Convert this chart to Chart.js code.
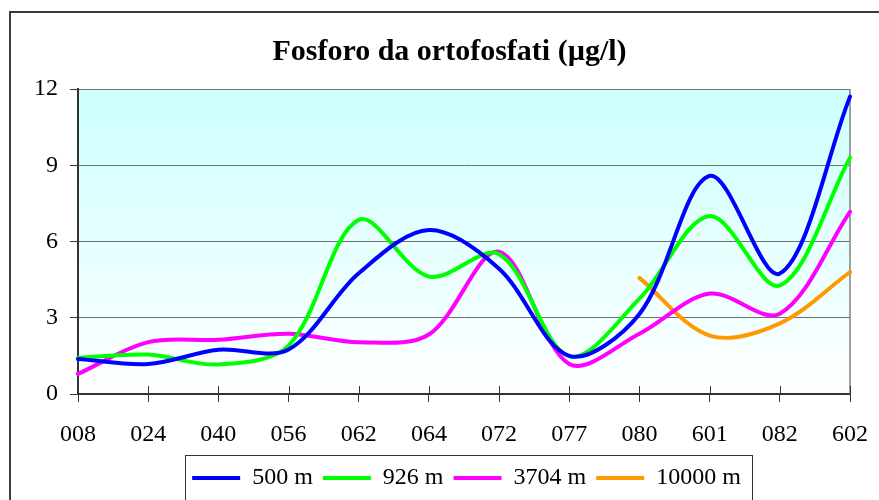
<!DOCTYPE html>
<html>
<head>
<meta charset="utf-8">
<script src="https://cdn.jsdelivr.net/npm/chart.js@4"></script>
<style>
  html, body { margin: 0; padding: 0; background: #fff; }
  #wrap { position: relative; width: 879px; height: 500px; overflow: hidden; }
  #frame { position: absolute; left: 9px; top: 11px; width: 1000px; height: 1000px; border: 2px solid #3c3c3c; }
  canvas { position: absolute; left: 0; top: 0; }
</style>
</head>
<body>
<div id="wrap">
  <div id="frame"></div>
  <canvas id="chart" width="879" height="500"></canvas>
</div>
<script>
// stazioni lungo l'asse x
const stazioni = ['008', '024', '040', '056', '062', '064', '072', '077', '080', '601', '082', '602'];

// valori (µg/l)
const dist500 = [1.38, 1.18, 1.74, 1.75, 4.75, 6.45, 4.93, 1.5, 3.15, 8.58, 4.74, 11.7];
const dist926 = [1.42, 1.55, 1.16, 1.9, 6.85, 4.62, 5.5, 1.48, 3.75, 7.0, 4.27, 9.3];
const dist3704 = [0.79, 2.04, 2.13, 2.37, 2.04, 2.34, 5.6, 1.18, 2.37, 3.95, 3.16, 7.17];
const dist10000 = [null, null, null, null, null, null, null, null, 4.57, 2.3, 2.78, 4.8];

const yTicks = [0, 3, 6, 9, 12];

const serif = '"Liberation Serif", "Times New Roman", serif';

// sfondo sfumato dell'area del grafico + bordo destro + tacche incrociate sull'asse x
const plotBackground = {
    id: 'plotBackground',
    beforeDatasetsDraw(chart) {
        const { ctx, chartArea: a } = chart;
        ctx.save();
        ctx.globalCompositeOperation = 'destination-over';
        const grad = ctx.createLinearGradient(0, a.top, 0, a.bottom);
        grad.addColorStop(0, '#ccffff');
        grad.addColorStop(1, '#ffffff');
        ctx.fillStyle = grad;
        ctx.fillRect(a.left, a.top, a.right - a.left, a.bottom - a.top);
        ctx.restore();

        ctx.save();
        ctx.strokeStyle = '#808080';
        ctx.lineWidth = 1.5;
        ctx.beginPath();
        ctx.moveTo(a.right, a.top);
        ctx.lineTo(a.right, a.bottom);
        ctx.stroke();

        const xs = chart.scales.x;
        ctx.strokeStyle = '#333';
        ctx.lineWidth = 1;
        xs.ticks.forEach((t, i) => {
            const px = Math.round(xs.getPixelForTick(i)) + 0.5;
            ctx.beginPath();
            ctx.moveTo(px, a.bottom - 8);
            ctx.lineTo(px, a.bottom);
            ctx.stroke();
        });
        ctx.restore();
    }
};

// sposta titolo e legenda come nell'originale (il riquadro Excel e' piu' largo)
const shiftBlocks = {
    id: 'shiftBlocks',
    afterLayout(chart) {
        chart.titleBlock.left = 20;
        chart.titleBlock.right = 879;
        chart.legend.left = 83;
        chart.legend.right = 850;
    }
};

// cornice attorno alla legenda
const legendFrame = {
    id: 'legendFrame',
    afterDraw(chart) {
        const hb = chart.legend.legendHitBoxes;
        if (!hb || !hb.length) return;
        const first = hb[0], last = hb[hb.length - 1];
        const x0 = Math.round(first.left - 7) + 0.5;
        const x1 = Math.round(last.left + last.width + 11) + 0.5;
        const cy = first.top + first.height / 2;
        const y0 = Math.round(cy - 23) + 0.5;
        const ctx = chart.ctx;
        ctx.save();
        ctx.strokeStyle = '#333';
        ctx.lineWidth = 1;
        ctx.strokeRect(x0, y0, x1 - x0, 60);
        ctx.restore();
    }
};

function serie(label, data, color) {
    return {
        label: label,
        data: data,
        borderColor: color,
        backgroundColor: color,
        borderWidth: 4,
        borderCapStyle: 'round',
        pointRadius: 0,
        pointHoverRadius: 0,
        tension: 0.33,
        fill: false,
        spanGaps: false
    };
}

new Chart(document.getElementById('chart'), {
    type: 'line',
    data: {
        labels: stazioni,
        datasets: [
            serie('500 m', dist500, '#0000ff'),
            serie('926 m', dist926, '#00ff00'),
            serie('3704 m', dist3704, '#ff00ff'),
            serie('10000 m', dist10000, '#ff9900')
        ]
    },
    plugins: [plotBackground, shiftBlocks, legendFrame],
    options: {
        responsive: false,
        animation: false,
        events: [],
        layout: { padding: { top: 12, right: 29, bottom: 0, left: 0 } },
        scales: {
            x: {
                offset: false,
                grid: { drawOnChartArea: false, tickLength: 8, tickColor: '#333', lineWidth: 1 },
                border: { color: '#333', width: 2 },
                ticks: { color: '#000', font: { family: serif, size: 24 }, padding: 18, maxRotation: 0, autoSkip: false },
                afterFit(scale) {
                    scale.height = 62;
                    scale.paddingLeft = 0;
                    scale.paddingRight = 0;
                }
            },
            y: {
                min: 0,
                max: 12,
                afterBuildTicks(scale) { scale.ticks = yTicks.map(v => ({ value: v })); },
                grid: { color: '#707070', lineWidth: 1, tickLength: 8, tickColor: '#333' },
                border: { color: '#333', width: 2 },
                ticks: { color: '#000', font: { family: serif, size: 24 }, padding: 12 },
                afterFit(scale) { scale.width = 78; }
            }
        },
        plugins: {
            title: {
                display: true,
                text: 'Fosforo da ortofosfati (µg/l)',
                color: '#000',
                font: { family: serif, size: 30, weight: 'bold' },
                padding: { top: 22, bottom: 19 }
            },
            legend: {
                position: 'bottom',
                labels: {
                    color: '#000',
                    font: { family: serif, size: 24 },
                    usePointStyle: true,
                    pointStyle: 'line',
                    pointStyleWidth: 48,
                    padding: 10
                }
            },
            tooltip: { enabled: false }
        }
    }
});
</script>
</body>
</html>
